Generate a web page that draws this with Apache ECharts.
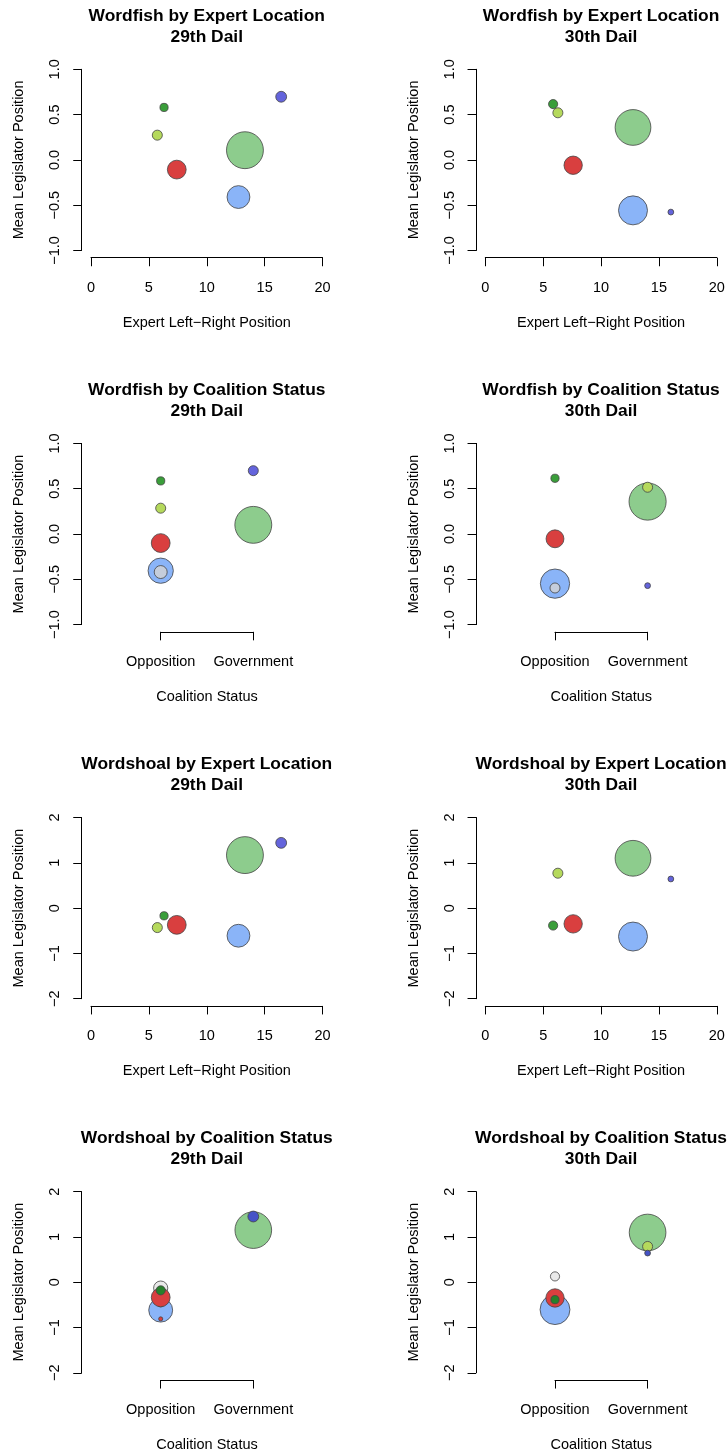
<!DOCTYPE html>
<html style="height: 100%">
<head>
<meta charset="utf-8">
<script src="https://cdn.jsdelivr.net/npm/echarts@6/dist/echarts.min.js"></script>
</head>
<body style="height: 100%; margin: 0; background: #ffffff">
<div id="container" style="width: 727px; height: 1454px"></div>
<script>
// ---- data ----
// expert location panels (drawn largest first)
var exp29_party = ['FF', 'FG', 'Lab', 'PD', 'Green', 'SF'];
var exp29_x     = [13.3, 12.74, 7.41, 16.43, 5.73, 6.31];
var exp29_n     = [81, 31, 21, 7, 6, 4];
var exp30_party = ['FF', 'FG', 'Lab', 'Green', 'SF', 'PD'];
var exp30_x     = [12.76, 12.76, 7.59, 6.27, 5.86, 16.03];
var exp30_n     = [76, 50, 20, 6, 5, 2];

var wf29_y = [0.107, -0.41, -0.107, 0.697, 0.273, 0.579];
var wf30_y = [0.358, -0.557, -0.059, 0.52, 0.616, -0.576];
var ws29_y = [1.17, -0.61, -0.37, 1.44, -0.43, -0.17];
var ws30_y = [1.10, -0.628, -0.348, 0.77, -0.385, 0.643];

// coalition status panels
var coal_labels = ['Opposition', 'Government'];

var wfc29_party = ['FF', 'FG', 'Lab', 'Ind', 'PD', 'Green', 'SF'];
var wfc29_side  = ['Government', 'Opposition', 'Opposition', 'Opposition', 'Government', 'Opposition', 'Opposition'];
var wfc29_n     = [81, 38, 21, 10, 6, 6, 4];
var wfc29_y     = [0.101, -0.405, -0.1, -0.42, 0.699, 0.285, 0.586];

var wfc30_party = ['FF', 'FG', 'Lab', 'Green', 'Ind', 'SF', 'PD'];
var wfc30_side  = ['Government', 'Opposition', 'Opposition', 'Government', 'Opposition', 'Opposition', 'Government'];
var wfc30_n     = [82, 51, 19, 6, 6, 4, 2];
var wfc30_y     = [0.358, -0.548, -0.053, 0.516, -0.596, 0.615, -0.57];

var wsc29_party = ['FF', 'FG', 'Ind', 'Green', 'Lab', 'PD', 'SF', 'Soc'];
var wsc29_side  = ['Government', 'Opposition', 'Opposition', 'Opposition', 'Opposition', 'Government', 'Opposition', 'Opposition'];
var wsc29_n     = [80, 34, 12, 5, 21, 7, 5, 1];
var wsc29_y     = [1.15, -0.617, -0.13, -0.445, -0.335, 1.45, -0.18, -0.81];

var wsc30_party = ['FF', 'FG', 'Lab', 'Green', 'Ind', 'SF', 'PD'];
var wsc30_side  = ['Government', 'Opposition', 'Opposition', 'Government', 'Opposition', 'Opposition', 'Government'];
var wsc30_n     = [80, 53, 20, 6, 5, 4, 2];
var wsc30_y     = [1.097, -0.606, -0.348, 0.789, 0.128, -0.385, 0.643];

var colors = {
    FF: '#8dcc8d', FG: '#8ab4f8', Lab: '#d93f3f', PD: '#6464dc',
    Green: '#b5d95c', SF: '#3a9e3a', Ind: 'rgba(211,211,211,0.8)', Soc: '#d93f3f'
};
// the wordshoal coalition panels use deeper shades for some parties
var colorsDeep = {SF: '#27802a', PD: '#4552c6', Ind: 'rgba(215,215,215,0.55)'};

var panels = [
    {title: 'Wordfish by Expert Location', dail: '29th Dail', mode: 'expert', scale: 'wf',
     party: exp29_party, x: exp29_x, y: wf29_y, n: exp29_n},
    {title: 'Wordfish by Expert Location', dail: '30th Dail', mode: 'expert', scale: 'wf',
     party: exp30_party, x: exp30_x, y: wf30_y, n: exp30_n},
    {title: 'Wordfish by Coalition Status', dail: '29th Dail', mode: 'coalition', scale: 'wf',
     party: wfc29_party, x: wfc29_side, y: wfc29_y, n: wfc29_n},
    {title: 'Wordfish by Coalition Status', dail: '30th Dail', mode: 'coalition', scale: 'wf',
     party: wfc30_party, x: wfc30_side, y: wfc30_y, n: wfc30_n},
    {title: 'Wordshoal by Expert Location', dail: '29th Dail', mode: 'expert', scale: 'ws',
     party: exp29_party, x: exp29_x, y: ws29_y, n: exp29_n},
    {title: 'Wordshoal by Expert Location', dail: '30th Dail', mode: 'expert', scale: 'ws',
     party: exp30_party, x: exp30_x, y: ws30_y, n: exp30_n},
    {title: 'Wordshoal by Coalition Status', dail: '29th Dail', mode: 'coalition', scale: 'ws',
     party: wsc29_party, x: wsc29_side, y: wsc29_y, n: wsc29_n, deep: true},
    {title: 'Wordshoal by Coalition Status', dail: '30th Dail', mode: 'coalition', scale: 'ws',
     party: wsc30_party, x: wsc30_side, y: wsc30_y, n: wsc30_n, deep: true}
];

// ---- layout ----
var font = "'Liberation Sans', Arial, Helvetica, sans-serif";
var colX = [91, 485.3];      // pixel of x = 0
var rowTop = 69.3, rowStep = 374.1;
var W = 231.5, H = 181.2;
var yOff = 9.26, xOff = 7.24;
var coalShift = 69.7, coalW = 92.6;

function minus(s) { return String(s).replace('-', '\u2212'); }

var option = {
    animation: false,
    backgroundColor: '#ffffff',
    title: [], grid: [], xAxis: [], yAxis: [], series: []
};

panels.forEach(function (p, i) {
    var col = i % 2, row = Math.floor(i / 2);
    var left = colX[col], top = rowTop + rowStep * row;
    var coal = p.mode === 'coalition';
    var gl = coal ? left + coalShift : left;
    var gw = coal ? coalW : W;

    option.title.push({
        text: p.title + '\n' + p.dail,
        left: left - yOff + (W + 2 * yOff) / 2,
        top: top - 63.6,
        textAlign: 'center',
        padding: 0,
        textStyle: {fontSize: 17.4, fontWeight: 'bold', color: '#000', lineHeight: 21, fontFamily: font}
    });
    option.grid.push({left: gl, top: top, width: gw, height: H, outerBoundsMode: 'none'});

    var axisLine = {show: true, onZero: false, lineStyle: {color: '#000', width: 1}};
    var axisTick = {show: true, length: 8.5, lineStyle: {color: '#000', width: 1}};

    option.xAxis.push({
        type: 'value', gridIndex: i, position: 'bottom', offset: xOff,
        min: coal ? 1 : 0, max: coal ? 2 : 20, interval: coal ? 1 : 5,
        axisLine: axisLine, axisTick: axisTick, splitLine: {show: false},
        axisLabel: {
            margin: 22.5, fontSize: 14.5, color: '#000', fontFamily: font,
            formatter: coal ? function (v) { return coal_labels[v - 1]; } : null
        },
        name: coal ? 'Coalition Status' : 'Expert Left\u2212Right Position',
        nameLocation: 'middle', nameGap: 57.5,
        nameTextStyle: {fontSize: 14.5, color: '#000', fontFamily: font}
    });
    option.yAxis.push({
        type: 'value', gridIndex: i, position: 'left', offset: coal ? yOff + coalShift : yOff,
        min: p.scale === 'wf' ? -1 : -2, max: p.scale === 'wf' ? 1 : 2,
        interval: p.scale === 'wf' ? 0.5 : 1,
        axisLine: axisLine, axisTick: axisTick, splitLine: {show: false},
        axisLabel: {
            margin: 19, rotate: 90, fontSize: 14.5, color: '#000', fontFamily: font,
            formatter: p.scale === 'wf'
                ? function (v) { return minus(v.toFixed(1)); }
                : function (v) { return minus(v); }
        },
        name: 'Mean Legislator Position', nameLocation: 'middle', nameGap: 55,
        nameTextStyle: {fontSize: 14.5, color: '#000', fontFamily: font}
    });

    var data = p.party.map(function (name, k) {
        var xv = coal ? coal_labels.indexOf(p.x[k]) + 1 : p.x[k];
        var c = (p.deep && colorsDeep[name]) || colors[name];
        return {name: name, value: [xv, p.y[k], p.n[k]], itemStyle: {color: c}};
    });
    option.series.push({
        type: 'scatter', xAxisIndex: i, yAxisIndex: i, clip: false,
        symbolSize: function (val) { return 4.1 * Math.sqrt(val[2]); },
        itemStyle: {borderColor: '#444', borderWidth: 0.8, opacity: 1},
        data: data
    });
});

var myChart = echarts.init(document.getElementById('container'), null, {renderer: 'canvas'});
myChart.setOption(option);
</script>
</body>
</html>
